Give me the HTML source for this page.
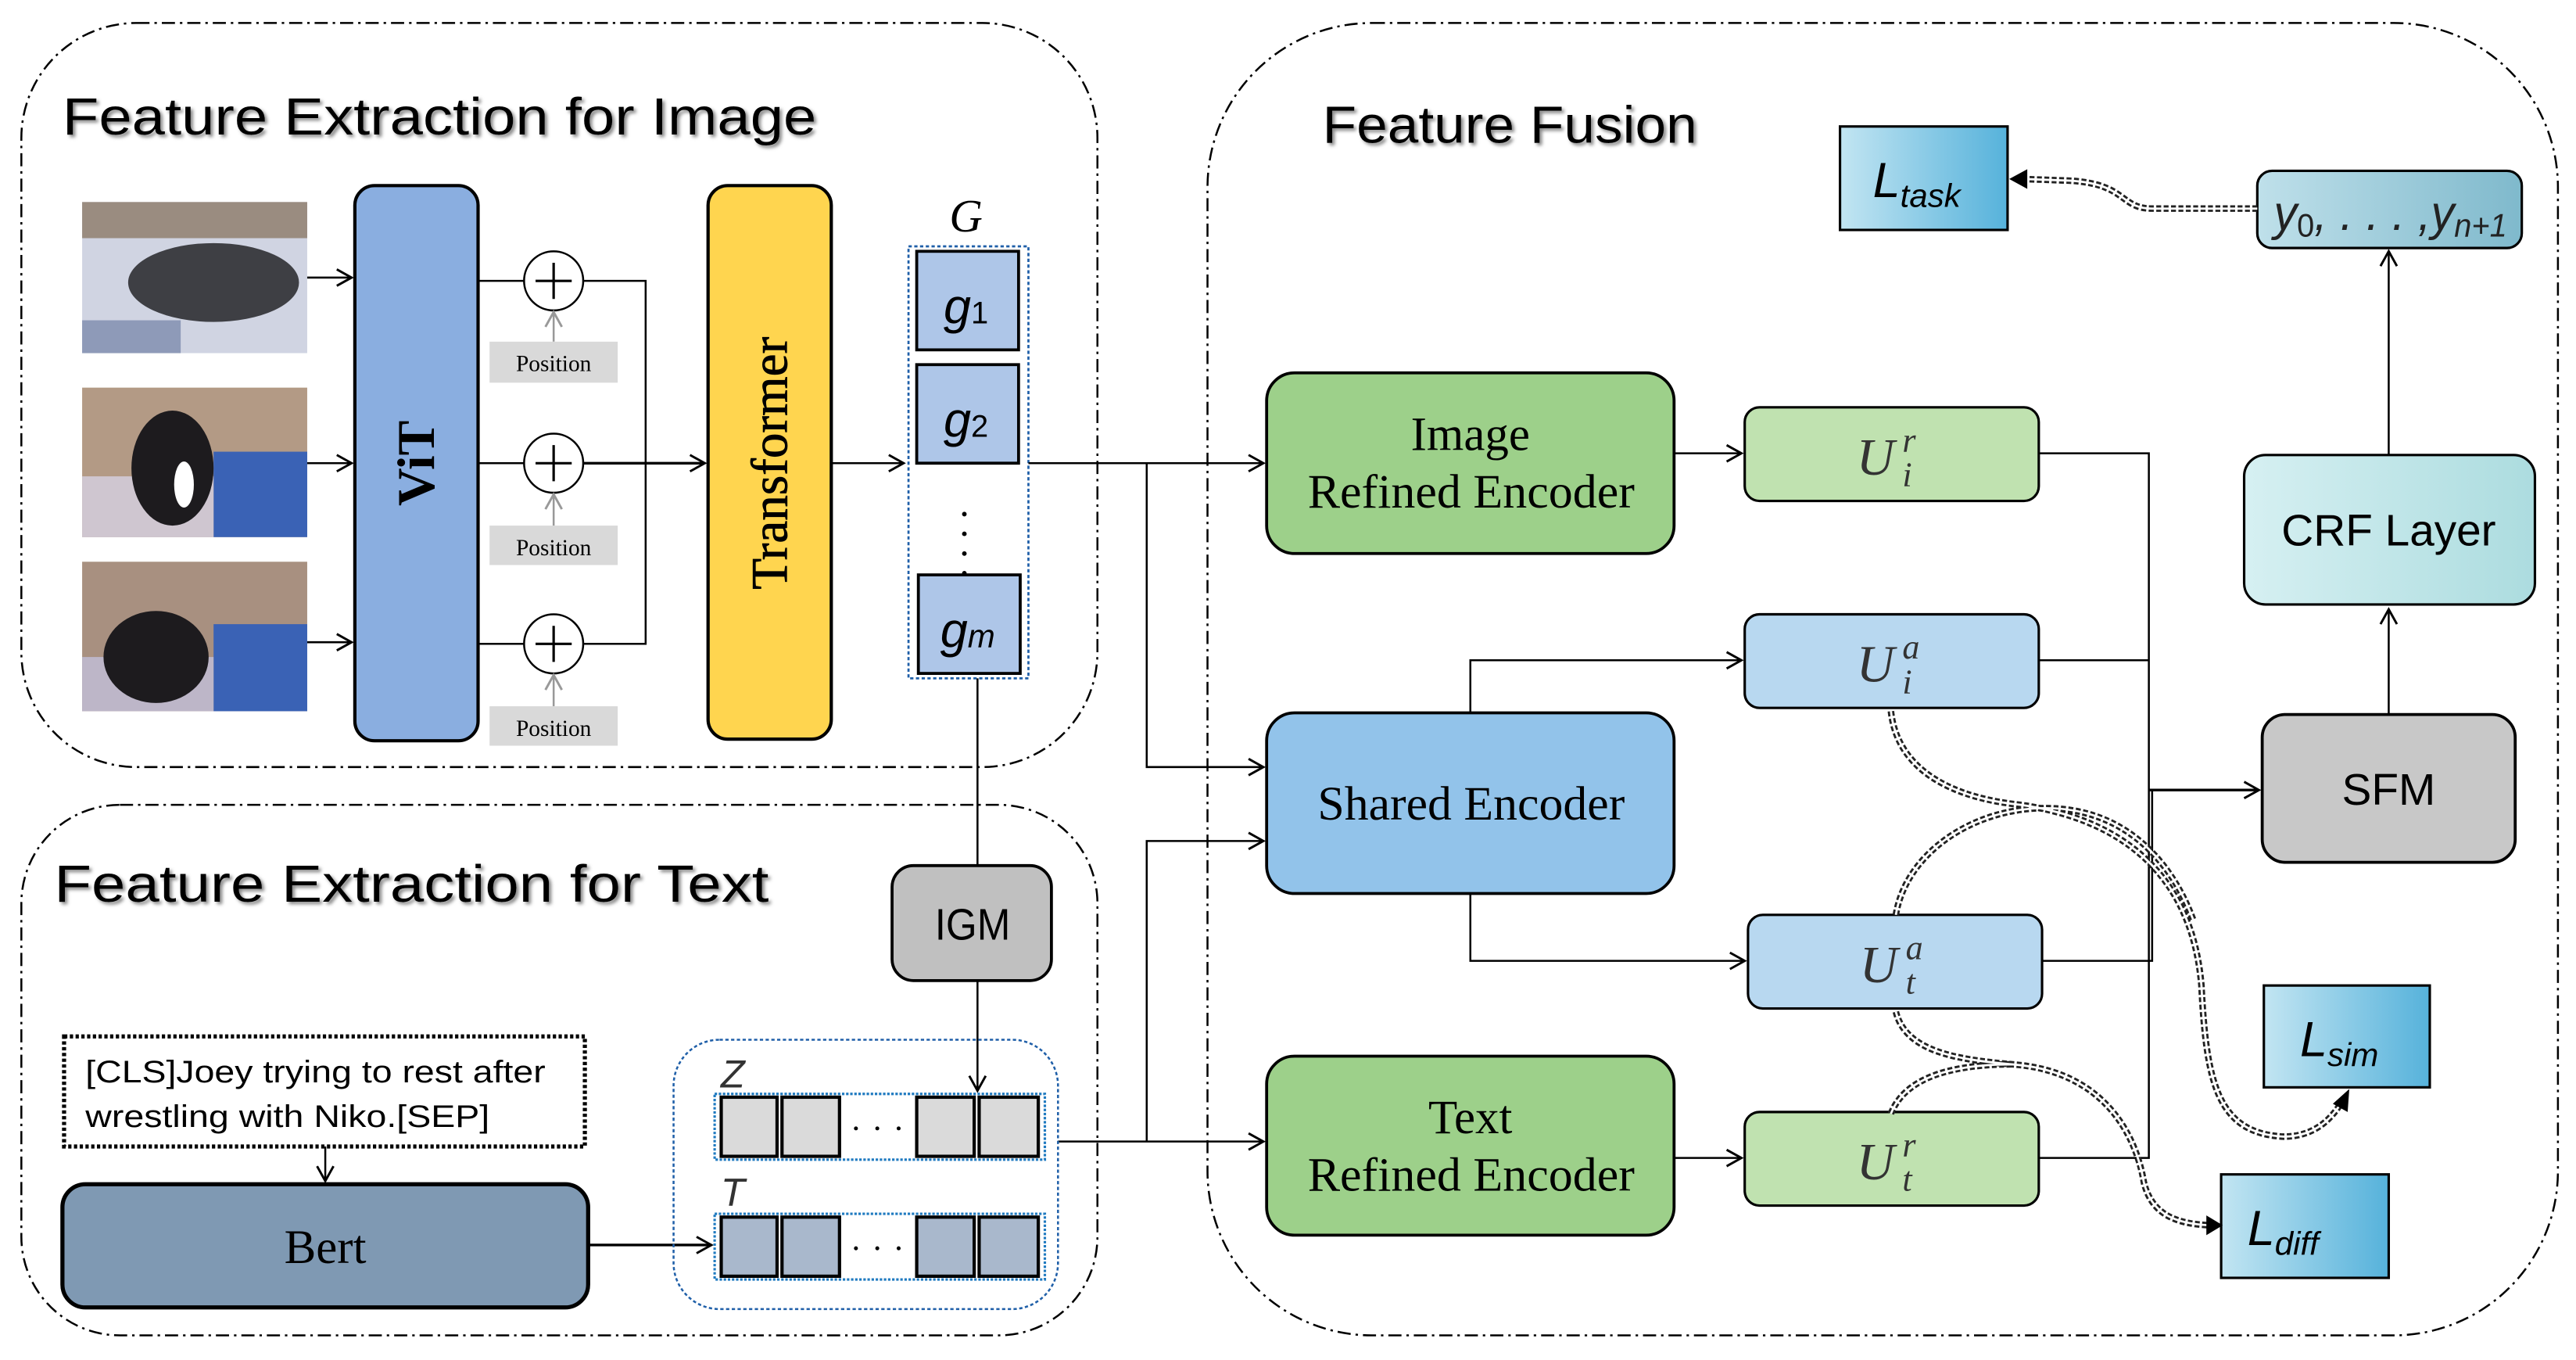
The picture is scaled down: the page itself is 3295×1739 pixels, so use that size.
<!DOCTYPE html>
<html><head><meta charset="utf-8"><style>
html,body{margin:0;padding:0;background:#fff;}
svg{display:block}
.t{font-family:"Liberation Sans",sans-serif;}
.s{font-family:"Liberation Serif",serif;}
</style></head><body>
<svg width="3295" height="1739" viewBox="0 0 1568 828" preserveAspectRatio="none" xmlns="http://www.w3.org/2000/svg">
<defs>
<marker id="a" markerWidth="12" markerHeight="12" refX="10" refY="6" orient="auto" markerUnits="userSpaceOnUse"><path d="M1,1 L10,6 L1,11" fill="none" stroke="#000" stroke-width="1.4"/></marker>
<marker id="ag" markerWidth="12" markerHeight="12" refX="10" refY="6" orient="auto" markerUnits="userSpaceOnUse"><path d="M1,1 L10,6 L1,11" fill="none" stroke="#999" stroke-width="1.4"/></marker>
<linearGradient id="gl" x1="0" x2="1"><stop offset="0" stop-color="#c2e5f2"/><stop offset="1" stop-color="#56b2db"/></linearGradient>
<linearGradient id="gy" x1="0" x2="1"><stop offset="0" stop-color="#bfe0ea"/><stop offset="1" stop-color="#7fb9cc"/></linearGradient>
<linearGradient id="gc" x1="0" x2="1"><stop offset="0" stop-color="#d6f0f2"/><stop offset="1" stop-color="#acdcdf"/></linearGradient>
<filter id="sh"><feDropShadow dx="1.5" dy="1.5" stdDeviation="1" flood-color="#888"/></filter>
</defs>

<rect x="13" y="14" width="655" height="453" rx="70" fill="none" stroke="#000" stroke-width="1.2" stroke-dasharray="8,3,1.5,3"/>
<rect x="13" y="490" width="655" height="323" rx="60" fill="none" stroke="#000" stroke-width="1.2" stroke-dasharray="8,3,1.5,3"/>
<rect x="735" y="14" width="822" height="799" rx="100" fill="none" stroke="#000" stroke-width="1.2" stroke-dasharray="8,3,1.5,3"/>

<text class="t" x="38" y="82" font-size="32" textLength="459" lengthAdjust="spacingAndGlyphs" filter="url(#sh)">Feature Extraction for Image</text>
<text class="t" x="33" y="549" font-size="32" textLength="435" lengthAdjust="spacingAndGlyphs" filter="url(#sh)">Feature Extraction for Text</text>
<text class="t" x="805" y="87" font-size="32" textLength="228" lengthAdjust="spacingAndGlyphs" filter="url(#sh)">Feature Fusion</text>

<!-- photos -->
<rect x="50" y="123" width="137" height="92" fill="#d0d4e2"/>
<rect x="50" y="123" width="137" height="22" fill="#9a8c80"/>
<ellipse cx="130" cy="172" rx="52" ry="24" fill="#3e3f44"/>
<rect x="50" y="195" width="60" height="20" fill="#8e9ab8"/>
<rect x="50" y="236" width="137" height="91" fill="#b39a85"/>
<rect x="130" y="275" width="57" height="52" fill="#3a62b5"/>
<rect x="50" y="290" width="80" height="37" fill="#cfc6d0"/>
<ellipse cx="105" cy="285" rx="25" ry="35" fill="#1d1b1e"/>
<ellipse cx="112" cy="295" rx="6" ry="14" fill="#fff"/>
<rect x="50" y="342" width="137" height="91" fill="#a89080"/>
<rect x="130" y="380" width="57" height="53" fill="#3a62b5"/>
<rect x="50" y="400" width="80" height="33" fill="#bdb6c8"/>
<ellipse cx="95" cy="400" rx="32" ry="28" fill="#1d1b1e"/>

<path d="M187,169 H214" stroke="#000" stroke-width="1.2" marker-end="url(#a)"/>
<path d="M187,282 H214" stroke="#000" stroke-width="1.2" marker-end="url(#a)"/>
<path d="M187,391 H214" stroke="#000" stroke-width="1.2" marker-end="url(#a)"/>

<rect x="216" y="113" width="75" height="338" rx="12" fill="#8aaee0" stroke="#000" stroke-width="2"/>
<text class="s" x="0" y="0" font-size="32" font-weight="bold" text-anchor="middle" transform="translate(264,282) rotate(-90)">ViT</text>

<g stroke="#000" stroke-width="1.2" fill="none">
<path d="M291,171 H319 M355,171 H393 V392 H355 M291,282 H319 M291,392 H319"/>
<path d="M355,282 H429" stroke-width="1.6" marker-end="url(#a)"/>
<circle cx="337" cy="171" r="18" fill="#fff"/><circle cx="337" cy="282" r="18" fill="#fff"/><circle cx="337" cy="392" r="18" fill="#fff"/>
<path d="M326,171 H348 M337,160 V182 M326,282 H348 M337,271 V293 M326,392 H348 M337,381 V403" stroke-width="1.5"/>
</g>
<g stroke="#999" stroke-width="1.2">
<path d="M337,208 V190" marker-end="url(#ag)"/><path d="M337,320 V301" marker-end="url(#ag)"/><path d="M337,430 V411" marker-end="url(#ag)"/>
</g>
<g class="s" font-size="14" text-anchor="middle">
<rect x="298" y="208" width="78" height="25" fill="#d9d9d9"/><text x="337" y="226">Position</text>
<rect x="298" y="320" width="78" height="24" fill="#d9d9d9"/><text x="337" y="338">Position</text>
<rect x="298" y="430" width="78" height="24" fill="#d9d9d9"/><text x="337" y="448">Position</text>
</g>

<rect x="431" y="113" width="75" height="337" rx="12" fill="#ffd54f" stroke="#000" stroke-width="2"/>
<text class="s" x="0" y="0" font-size="31" text-anchor="middle" stroke="#000" stroke-width="0.4" transform="translate(479,282) rotate(-90)">Transformer</text>
<path d="M506,282 H550" stroke="#000" stroke-width="1.2" marker-end="url(#a)"/>

<text class="s" x="588" y="141" font-size="28" font-style="italic" text-anchor="middle">G</text>
<rect x="553" y="150" width="73" height="263" fill="none" stroke="#1f5fa8" stroke-width="1.3" stroke-dasharray="2,1.5"/>
<g fill="#aec6e8" stroke="#000" stroke-width="1.8">
<rect x="558" y="153" width="62" height="60"/><rect x="558" y="222" width="62" height="60"/><rect x="559" y="350" width="62" height="60"/>
</g>
<g class="t" font-style="italic" font-size="30" text-anchor="middle">
<text x="588" y="197">g<tspan font-size="19" font-style="normal">1</tspan></text>
<text x="588" y="266">g<tspan font-size="19" font-style="normal">2</tspan></text>
<text x="589" y="394">g<tspan font-size="20">m</tspan></text>
</g>
<g fill="#000"><circle cx="587" cy="313" r="1.4"/><circle cx="587" cy="325" r="1.4"/><circle cx="587" cy="337" r="1.4"/><circle cx="587" cy="349" r="1.4"/></g>

<g stroke="#000" stroke-width="1.2" fill="none">
<path d="M626,282 H769" marker-end="url(#a)"/>
<path d="M698,282 V467 H769" marker-end="url(#a)"/>
<path d="M595,413 V527"/>
<path d="M595,597 V664" marker-end="url(#a)"/>
<path d="M644,695 H769" marker-end="url(#a)"/>
<path d="M698,695 V512 H769" marker-end="url(#a)"/>
<path d="M198,698 V719" marker-end="url(#a)"/>
<path d="M358,758 H433" stroke-width="1.6" marker-end="url(#a)"/>
</g>

<rect x="543" y="527" width="97" height="70" rx="13" fill="#c0c0c0" stroke="#000" stroke-width="1.8"/>
<text class="t" x="592" y="572" font-size="27" text-anchor="middle" textLength="46" lengthAdjust="spacingAndGlyphs">IGM</text>

<rect x="39" y="631" width="317" height="67" fill="none" stroke="#000" stroke-width="2.5" stroke-dasharray="2,1.5"/>
<text class="t" x="52" y="659" font-size="19" textLength="280" lengthAdjust="spacingAndGlyphs">[CLS]Joey trying to rest after</text>
<text class="t" x="52" y="686" font-size="19" textLength="246" lengthAdjust="spacingAndGlyphs">wrestling with Niko.[SEP]</text>

<rect x="38" y="721" width="320" height="75" rx="14" fill="#7f99b3" stroke="#000" stroke-width="2.5"/>
<text class="s" x="198" y="769" font-size="29" text-anchor="middle">Bert</text>

<rect x="410" y="633" width="234" height="164" rx="28" fill="none" stroke="#1f5fa8" stroke-width="1.2" stroke-dasharray="2,1.5"/>
<text class="t" x="446" y="662" font-size="24" font-style="italic" fill="#333" text-anchor="middle">Z</text>
<text class="t" x="446" y="734" font-size="24" font-style="italic" fill="#333" text-anchor="middle">T</text>
<rect x="435" y="666" width="201" height="40" fill="none" stroke="#1f7ac0" stroke-width="1.5" stroke-dasharray="1.5,1"/>
<rect x="435" y="739" width="201" height="40" fill="none" stroke="#1f7ac0" stroke-width="1.5" stroke-dasharray="1.5,1"/>
<g fill="#dadada" stroke="#000" stroke-width="2">
<rect x="439" y="668" width="34" height="36"/><rect x="476" y="668" width="35" height="36"/><rect x="558" y="668" width="35" height="36"/><rect x="596" y="668" width="36" height="36"/>
</g>
<g fill="#a9b8cc" stroke="#000" stroke-width="2">
<rect x="439" y="741" width="34" height="36"/><rect x="476" y="741" width="35" height="36"/><rect x="558" y="741" width="35" height="36"/><rect x="596" y="741" width="36" height="36"/>
</g>
<g fill="#000"><circle cx="521" cy="687" r="1.2"/><circle cx="534" cy="687" r="1.2"/><circle cx="547" cy="687" r="1.2"/><circle cx="521" cy="760" r="1.2"/><circle cx="534" cy="760" r="1.2"/><circle cx="547" cy="760" r="1.2"/></g>

<rect x="771" y="227" width="248" height="110" rx="17" fill="#9dd08a" stroke="#000" stroke-width="1.8"/>
<text class="s" x="895" y="274" font-size="29" text-anchor="middle">Image</text>
<text class="s" x="796" y="309" font-size="29" textLength="199" lengthAdjust="spacingAndGlyphs">Refined Encoder</text>
<rect x="771" y="434" width="248" height="110" rx="17" fill="#92c3ea" stroke="#000" stroke-width="1.8"/>
<text class="s" x="802" y="499" font-size="29" textLength="187" lengthAdjust="spacingAndGlyphs">Shared Encoder</text>
<rect x="771" y="643" width="248" height="109" rx="17" fill="#9dd08a" stroke="#000" stroke-width="1.8"/>
<text class="s" x="895" y="690" font-size="29" text-anchor="middle">Text</text>
<text class="s" x="796" y="725" font-size="29" textLength="199" lengthAdjust="spacingAndGlyphs">Refined Encoder</text>

<rect x="1062" y="248" width="179" height="57" rx="9" fill="#c0e2b0" stroke="#000" stroke-width="1.5"/>
<rect x="1062" y="374" width="179" height="57" rx="9" fill="#b8d8f0" stroke="#000" stroke-width="1.5"/>
<rect x="1064" y="557" width="179" height="57" rx="9" fill="#b8d8f0" stroke="#000" stroke-width="1.5"/>
<rect x="1062" y="677" width="179" height="57" rx="9" fill="#c0e2b0" stroke="#000" stroke-width="1.5"/>
<g class="s" font-style="italic" fill="#333">
<text x="1130" y="289" font-size="32">U</text><text x="1158" y="275" font-size="21">r</text><text x="1158" y="296" font-size="21">i</text>
<text x="1130" y="415" font-size="32">U</text><text x="1158" y="401" font-size="21">a</text><text x="1158" y="422" font-size="21">i</text>
<text x="1132" y="598" font-size="32">U</text><text x="1160" y="584" font-size="21">a</text><text x="1160" y="605" font-size="21">t</text>
<text x="1130" y="718" font-size="32">U</text><text x="1158" y="704" font-size="21">r</text><text x="1158" y="725" font-size="21">t</text>
</g>

<g stroke="#000" stroke-width="1.2" fill="none">
<path d="M1019,276 H1060" marker-end="url(#a)"/>
<path d="M1019,705 H1060" marker-end="url(#a)"/>
<path d="M895,434 V402 H1060" marker-end="url(#a)"/>
<path d="M895,544 V585 H1062" marker-end="url(#a)"/>
<path d="M1241,276 H1308 V705 H1241 M1241,402 H1308 M1243,585 H1310 V481"/>
<path d="M1308,481 H1375" stroke-width="1.6" marker-end="url(#a)"/>
<path d="M1454,435 V371" marker-end="url(#a)"/>
<path d="M1454,277 V153" marker-end="url(#a)"/>
</g>

<rect x="1377" y="435" width="154" height="90" rx="14" fill="#c8c8c8" stroke="#000" stroke-width="1.8"/>
<text class="t" x="1454" y="490" font-size="27" text-anchor="middle">SFM</text>
<rect x="1366" y="277" width="177" height="91" rx="13" fill="url(#gc)" stroke="#000" stroke-width="1.5"/>
<text class="t" x="1454" y="332" font-size="27" text-anchor="middle">CRF  Layer</text>
<rect x="1374" y="104" width="161" height="47" rx="9" fill="url(#gy)" stroke="#000" stroke-width="1.5"/>
<text class="t" x="1384" y="140" font-size="30" font-style="italic" fill="#222" textLength="142" lengthAdjust="spacingAndGlyphs">y<tspan font-size="20" font-style="normal" dy="4">0</tspan><tspan dy="-4">, . . . ,</tspan>y<tspan font-size="20" dy="4">n+1</tspan></text>

<rect x="1120" y="77" width="102" height="63" fill="url(#gl)" stroke="#000" stroke-width="1.5"/>
<text class="t" x="1140" y="120" font-size="30" font-style="italic">L<tspan font-size="20" dy="6">task</tspan></text>
<rect x="1378" y="600" width="101" height="62" fill="url(#gl)" stroke="#000" stroke-width="1.5"/>
<text class="t" x="1400" y="643" font-size="30" font-style="italic">L<tspan font-size="20" dy="6">sim</tspan></text>
<rect x="1352" y="715" width="102" height="63" fill="url(#gl)" stroke="#000" stroke-width="1.5"/>
<text class="t" x="1368" y="758" font-size="30" font-style="italic">L<tspan font-size="20" dy="6">diff</tspan></text>

<g fill="none">
<g stroke="#222" stroke-width="4" stroke-dasharray="3,1.5">
<path d="M1374,127 H1310 C1290,127 1295,112 1260,110 L1232,109"/>
<path d="M1151,433 C1155,470 1190,486 1230,490 C1300,500 1335,540 1340,600 C1343,660 1350,690 1390,692 C1410,692 1420,680 1426,670"/>
<path d="M1154,557 C1160,520 1200,492 1245,492 C1290,492 1320,520 1335,560"/>
<path d="M1154,616 C1160,640 1190,645 1225,648 C1280,652 1300,690 1305,720 C1310,740 1325,745 1345,746"/>
<path d="M1151,678 C1160,655 1190,648 1225,648"/>
</g>
<g stroke="#fff" stroke-width="1.3">
<path d="M1374,127 H1310 C1290,127 1295,112 1260,110 L1232,109"/>
<path d="M1151,433 C1155,470 1190,486 1230,490 C1300,500 1335,540 1340,600 C1343,660 1350,690 1390,692 C1410,692 1420,680 1426,670"/>
<path d="M1154,557 C1160,520 1200,492 1245,492 C1290,492 1320,520 1335,560"/>
<path d="M1154,616 C1160,640 1190,645 1225,648 C1280,652 1300,690 1305,720 C1310,740 1325,745 1345,746"/>
<path d="M1151,678 C1160,655 1190,648 1225,648"/>
</g>
</g>
<path d="M1234,103 L1223,109 L1234,115 Z" fill="#000"/>
<path d="M1420,672 L1430,663 L1429,677 Z" fill="#000"/>
<path d="M1343,740 L1353,746 L1343,752 Z" fill="#000"/>
</svg>
</body></html>
